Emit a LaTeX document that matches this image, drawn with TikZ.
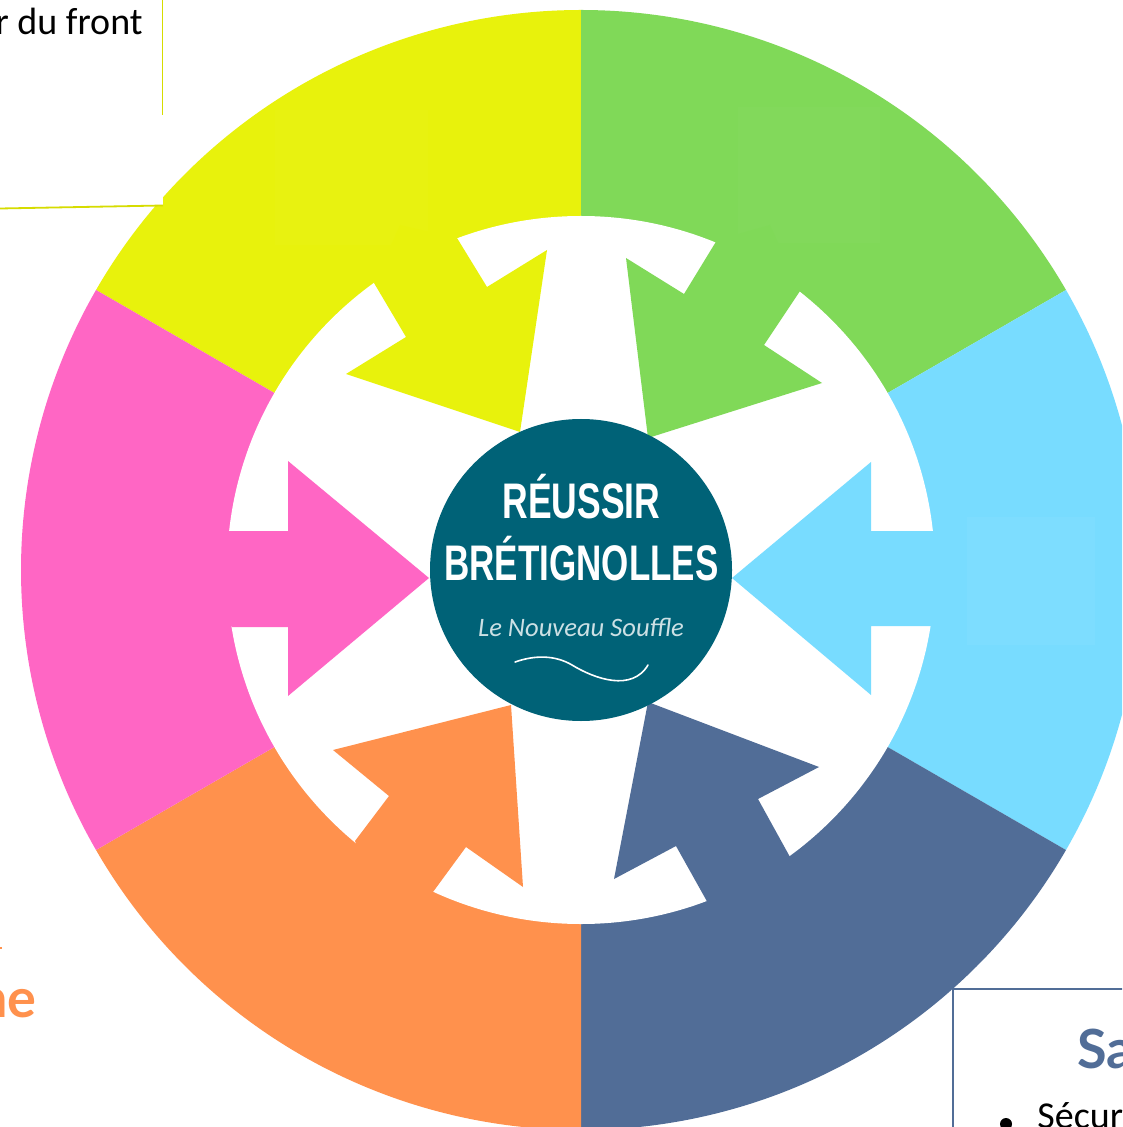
\documentclass[tikz,border=0pt]{standalone}
\usepackage{fontspec}
\setmainfont{Carlito}
\newfontfamily\headfont{Lato}
\newfontfamily\logofont{Liberation Sans}
\definecolor{cyel}{HTML}{E8F20C}
\definecolor{cgre}{HTML}{80D958}
\definecolor{ccya}{HTML}{78DCFF}
\definecolor{cblu}{HTML}{516D97}
\definecolor{cora}{HTML}{FF914D}
\definecolor{cpin}{HTML}{FF66C4}
\definecolor{cteal}{HTML}{006277}
\definecolor{cline}{HTML}{D6DC00}
\tikzset{
  bodytext/.style={inner sep=0pt,text=black,font=\fontsize{19}{23}\selectfont},
  headtext/.style={inner sep=0pt,font=\headfont\bfseries\fontsize{27}{31}\selectfont},
  logotext/.style={inner sep=0pt,text=white,font=\logofont\bfseries\fontsize{25}{29}\selectfont},
  scripttext/.style={inner sep=0pt,text=white!80!cteal,font=\itshape\fontsize{13.3}{15}\selectfont}
}
\begin{document}
\begin{tikzpicture}[x=0.5pt,y=-0.5pt]
\useasboundingbox (0,0) rectangle (1122,1127);
\clip (0,0) rectangle (1122,1127);
\fill[white] (0,0) rectangle (1122,1127);
% Sectors
\def\Sector#1#2#3{\fill[#1] (581,570) -- ++({560*cos(#2)},{-560*sin(#2)}) arc[start angle=-#2,end angle=-#3,radius=560] -- cycle;}
\Sector{cyel}{90}{150}
\Sector{cgre}{30}{90}
\Sector{ccya}{-30}{30}
\Sector{cblu}{-90}{-30}
\Sector{cora}{-150}{-90}
\Sector{cpin}{150}{210}
% Faint rectangles inside the sectors
\fill[white,opacity=.02] (275,110) rectangle (428,245);
\fill[white,opacity=.02] (738,107) rectangle (880,243);
\fill[white,opacity=.04] (967,517) rectangle (1095,645);
% White disc
\fill[white] (581,570) circle[radius=354];
% Arrows
\fill[cyel] (400,225) -- (457,238) -- (487,287) -- (547,250) -- (520,432) -- (346,374) -- (406,337) -- (374,283) -- cycle;
\fill[cgre] (770,225) -- (717,240) -- (684,294) -- (626,258) -- (648,438) -- (822,383) -- (764,345) -- (800,291) -- cycle;
\fill[ccya] (965,578) -- (934,531) -- (871,531) -- (871,462) -- (732,578) -- (871,695) -- (871,626) -- (932,626) -- cycle;
\fill[cblu] (770,925) -- (790,857) -- (758,799) -- (819,767) -- (648,702) -- (614,879) -- (676,846) -- (709,905) -- cycle;
\fill[cora] (385,915) -- (355,841) -- (389,796) -- (333,750) -- (511,705) -- (523,887) -- (466,847) -- (433,892) -- cycle;
\fill[cpin] (195,578) -- (229,531) -- (288,531) -- (288,461) -- (429,578) -- (288,696) -- (288,627) -- (232,627) -- cycle;
% Centre
\fill[cteal] (581,570) circle[radius=151];
\node[logotext] (logoa) at (581.5,518) [anchor=base] {\scalebox{0.71}[1]{RÉUSSIR}};
\node[logotext] (logob) at (581.5,580) [anchor=base] {\scalebox{0.70}[1]{BRÉTIGNOLLES}};
\node[scripttext] (logoc) at (581,636) [anchor=base] {Le Nouveau Souffle};
\draw[white,line width=.8pt,line cap=round] (515,662) .. controls (535,655) and (555,655) .. (572,665) .. controls (595,679) and (632,692) .. (648,665);
% Top-left box
\fill[white] (-5,-5) rectangle (163,206);
\draw[cline,line width=.7pt] (162.5,0) -- (162.5,115);
\draw[cline,line width=.9pt] (0,208.5) -- (163,205.5);
\node[bodytext,anchor=base east] (front) at (143,35) {r du front};
% Bottom-left text
\node[headtext,text=cora,anchor=base east] (orangetext) at (37,1017) {ne};
\fill[cora] (0,947) rectangle (2,949);
% Bottom-right box
\fill[white] (953,989) rectangle (1130,1135);
\draw[cblu,line width=.7pt] (1130,989) -- (953,989) -- (953,1135);
\node[headtext,text=cblu,anchor=base west] (bluetext) at (1077,1068) {Sa};
\fill[black] (1006,1124) circle[radius=6];
\node[bodytext,anchor=base west] (secur) at (1037,1128) {Sécur};
\end{tikzpicture}
\end{document}
